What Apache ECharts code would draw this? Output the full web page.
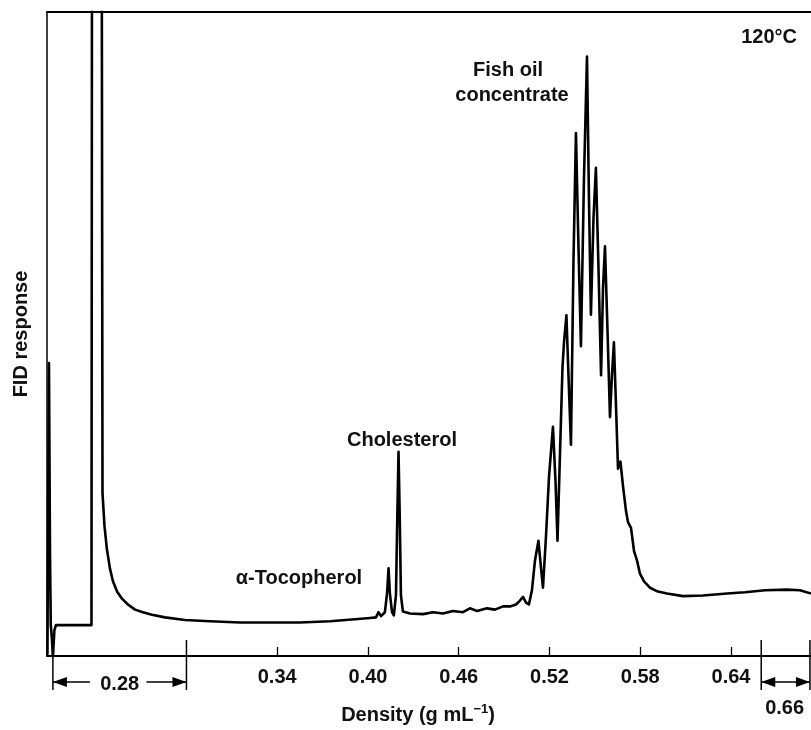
<!DOCTYPE html>
<html><head><meta charset="utf-8">
<script src="https://cdn.jsdelivr.net/npm/echarts@6/dist/echarts.min.js"></script>
<style>html,body{margin:0;padding:0;background:#fff}#chart{width:811px;height:730px}</style>
</head><body><div id="chart"></div>
<script>
// Trace: x in density-scale axis units, y in FID response (0-100 = full scale)
const traceDensity = [0.1881,0.1884,0.1891,0.1898,0.1903,0.1911,0.1917,0.1927,0.1937,0.2030,0.2172,0.2177,0.2205,0.2237,0.2245,0.2258,0.2274,0.2294,0.2314,0.2341,0.2374,0.2413,0.2460,0.2512,0.2572,0.2658,0.2790,0.2955,0.3154,0.3352,0.3550,0.3749,0.3914,0.4013,0.4053,0.4069,0.4086,0.4112,0.4126,0.4136,0.4145,0.4159,0.4171,0.4185,0.4194,0.4202,0.4210,0.4218,0.4231,0.4278,0.4364,0.4430,0.4496,0.4562,0.4628,0.4674,0.4721,0.4787,0.4840,0.4893,0.4939,0.4979,0.5005,0.5025,0.5045,0.5064,0.5084,0.5104,0.5127,0.5144,0.5157,0.5177,0.5197,0.5223,0.5240,0.5253,0.5269,0.5286,0.5296,0.5312,0.5326,0.5342,0.5359,0.5375,0.5392,0.5408,0.5428,0.5448,0.5461,0.5474,0.5491,0.5507,0.5524,0.5541,0.5554,0.5567,0.5583,0.5600,0.5613,0.5626,0.5640,0.5653,0.5669,0.5686,0.5706,0.5719,0.5739,0.5759,0.5779,0.5798,0.5825,0.5864,0.5917,0.5977,0.6083,0.6215,0.6374,0.6493,0.6625,0.6770,0.6856,0.6929];
const traceResponse = [0.2,15.6,45.5,15.6,4.8,2.5,-0.2,4.0,4.8,4.8,4.8,160,240,160,25.3,20.2,16.6,13.6,11.6,10.0,8.9,8.0,7.2,6.8,6.4,6.0,5.6,5.4,5.2,5.2,5.2,5.4,5.7,5.9,6.0,6.8,6.2,6.8,9.7,13.6,9.7,6.8,6.3,9.4,21.7,31.7,21.7,9.4,6.9,6.6,6.5,6.8,6.6,7.0,6.8,7.4,7.0,7.4,7.2,7.7,7.7,8.0,8.6,9.2,8.3,8.0,10.2,14.8,17.9,13.7,10.6,18.6,27.9,35.6,27.1,17.9,31.0,44.8,48.7,52.9,43.3,32.8,61.8,81.2,63.3,48.1,74.1,93.1,71.0,53.0,68.0,75.8,60.3,43.6,57.2,63.6,51.0,37.1,43.6,48.7,38.7,29.1,30.2,26.4,22.5,20.8,19.9,16.3,14.8,12.8,11.6,10.6,10.0,9.7,9.3,9.4,9.7,9.9,10.2,10.3,10.2,9.7];
const tickLabels = [0.34, 0.40, 0.46, 0.52, 0.58, 0.64];
const holdStart = 0.1917;      // start of the isopycnic hold
const holdDensity = 0.28;      // labelled hold density
const finalDensity = 0.66;     // final density
const traceEnd = 0.6922;       // end of run
const axisRange = [0.1878, 0.6929];
const responseRange = [0, 100];

const FONT = "'Liberation Sans', Arial, Helvetica, sans-serif";
const W = 'bold';
const chart = echarts.init(document.getElementById('chart'), null, {renderer: 'canvas'});

chart.setOption({
  animation: false,
  backgroundColor: '#fff',
  grid: {left: 47, right: 0, top: 12, bottom: 69, containLabel: false},
  xAxis: [{
    type: 'value', min: axisRange[0], max: axisRange[1], position: 'bottom',
    axisLine: {show: true, lineStyle: {color: '#000', width: 2}},
    axisTick: {show: true, inside: true, length: 9, customValues: tickLabels, lineStyle: {color: '#000', width: 1.3}},
    axisLabel: {show: true, customValues: tickLabels, formatter: v => v.toFixed(2), margin: 11,
      fontSize: 20, fontWeight: W, fontFamily: FONT, color: '#111'},
    splitLine: {show: false},
    name: '{n|Density (g mL}{s|−1}{n|)}', nameLocation: 'middle', nameGap: 47,
    nameTextStyle: {padding: [0, 22, 0, 0], rich: {
      n: {fontSize: 20, fontWeight: W, fontFamily: FONT, color: '#111', lineHeight: 24},
      s: {fontSize: 13, fontWeight: W, fontFamily: FONT, color: '#111', lineHeight: 13, verticalAlign: 'top'}
    }}
  }, {
    type: 'value', min: axisRange[0], max: axisRange[1], position: 'top',
    axisLine: {show: true, lineStyle: {color: '#000', width: 2}},
    axisTick: {show: false}, axisLabel: {show: false}, splitLine: {show: false}
  }],
  yAxis: [{
    type: 'value', min: responseRange[0], max: responseRange[1],
    axisLine: {show: true, lineStyle: {color: '#000', width: 1.5}},
    axisTick: {show: false}, axisLabel: {show: false}, splitLine: {show: false},
    name: 'FID response', nameLocation: 'middle', nameGap: 16, nameRotate: 90,
    nameTextStyle: {fontSize: 20, fontWeight: W, fontFamily: FONT, color: '#111'}
  }],
  series: [{
    type: 'line', xAxisIndex: 0, yAxisIndex: 0, showSymbol: false, clip: true,
    data: traceDensity.map((d, i) => [d, traceResponse[i]]),
    lineStyle: {color: '#000', width: 2.6, join: 'round'}, silent: true
  }]
});

// Annotations and brackets placed through the axis scale
const px = v => chart.convertToPixel({xAxisIndex: 0}, v);
const axisY = chart.convertToPixel({yAxisIndex: 0}, 0);
const stroke = {stroke: '#000', lineWidth: 1.5};
const g = [];
function vline(x, y1, y2) { g.push({type: 'line', shape: {x1: x, y1: y1, x2: x, y2: y2}, style: stroke}); }
function hline(x1, x2, y) { g.push({type: 'line', shape: {x1: x1, y1: y, x2: x2, y2: y}, style: stroke}); }
function head(xTip, y, dir) { // dir -1: pointing left, +1: pointing right
  const L = 14, H = 5;
  g.push({type: 'polygon', shape: {points: [[xTip, y], [xTip - dir * L, y - H], [xTip - dir * L, y + H]]}, style: {fill: '#000'}});
}
function text(t, x, y, align, size) {
  g.push({type: 'text', x: x, y: y, style: {text: t, fontSize: size || 20, fontWeight: W, fontFamily: FONT, fill: '#111', align: align || 'center', verticalAlign: 'middle'}});
}
const xHold = px(holdStart), x28 = px(holdDensity), x66 = px(finalDensity), xEnd = px(traceEnd);
const arrowY = axisY + 26;
vline(xHold, axisY, axisY + 34);
vline(x28, axisY - 16, axisY + 34);
vline(x66, axisY - 16, axisY + 34);
vline(xEnd, axisY - 16, axisY + 34);
// 0.28 bracket
hline(xHold, xHold + 37, arrowY); head(xHold, arrowY, -1);
hline(x28 - 40, x28, arrowY); head(x28, arrowY, 1);
text(holdDensity.toFixed(2), (xHold + x28) / 2, arrowY + 2);
// 0.66 bracket
hline(x66, xEnd, arrowY); head(x66, arrowY, -1); head(xEnd, arrowY, 1);
text(finalDensity.toFixed(2), (x66 + xEnd) / 2 - 1, arrowY + 26);
// peak labels
text('120°C', 797, 37, 'right');
text('Fish oil', 508, 70);
text('concentrate', 512, 95);
text('Cholesterol', 402, 440);
text('α-Tocopherol', 299, 578);
chart.setOption({graphic: g});
</script>
</body></html>
